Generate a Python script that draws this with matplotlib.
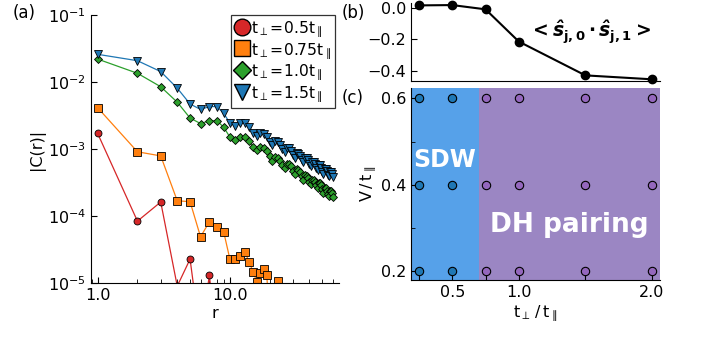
import numpy as np
import matplotlib
matplotlib.use('Agg')
import matplotlib.pyplot as plt
from matplotlib.lines import Line2D
from matplotlib.ticker import NullFormatter

# ---- data ----
r_blue = list(range(1, 61))
c_blue = [2.59e-2, 2.08e-2, 1.43e-2, 8.1e-3, 4.7e-3, 3.9e-3, 4.3e-3, 4.3e-3, 3.4e-3, 2.44e-3,
          2.20e-3, 2.44e-3, 2.44e-3, 2.13e-3, 1.74e-3, 1.57e-3, 1.74e-3, 1.66e-3, 1.49e-3, 1.26e-3,
          1.14e-3, 1.31e-3, 1.27e-3, 1.15e-3, 9.9e-4, 9.0e-4, 1.04e-3, 1.02e-3, 9.4e-4, 8.1e-4,
          7.4e-4, 8.7e-4, 8.5e-4, 7.9e-4, 6.8e-4, 6.3e-4, 7.4e-4, 7.3e-4, 6.8e-4, 5.9e-4,
          5.5e-4, 6.4e-4, 6.4e-4, 5.9e-4, 5.2e-4, 4.8e-4, 5.7e-4, 5.7e-4, 5.3e-4, 4.6e-4,
          4.3e-4, 5.1e-4, 5.1e-4, 4.7e-4, 4.15e-4, 3.9e-4, 4.6e-4, 4.6e-4, 4.3e-4, 3.8e-4]

r_green = list(range(1, 61))
c_green = [2.20e-2, 1.35e-2, 8.5e-3, 5.0e-3, 2.9e-3, 2.4e-3, 2.64e-3, 2.64e-3, 2.1e-3, 1.51e-3,
           1.36e-3, 1.51e-3, 1.51e-3, 1.32e-3, 1.08e-3, 9.7e-4, 1.08e-3, 1.03e-3, 9.2e-4, 7.8e-4,
           6.6e-4, 7.6e-4, 7.4e-4, 6.7e-4, 5.7e-4, 5.2e-4, 6.0e-4, 5.9e-4, 5.5e-4, 4.7e-4,
           4.3e-4, 5.0e-4, 4.9e-4, 4.6e-4, 3.9e-4, 3.5e-4, 4.1e-4, 4.0e-4, 3.7e-4, 3.2e-4,
           3.0e-4, 3.5e-4, 3.5e-4, 3.2e-4, 2.9e-4, 2.6e-4, 3.1e-4, 3.1e-4, 2.9e-4, 2.5e-4,
           2.2e-4, 2.65e-4, 2.65e-4, 2.4e-4, 2.15e-4, 2.0e-4, 2.4e-4, 2.4e-4, 2.2e-4, 1.95e-4]

r_orange = list(range(1, 24))
c_orange = [4.14e-3, 9.1e-4, 7.9e-4, 1.69e-4, 1.64e-4, 4.9e-5, 8.2e-5, 6.9e-5, 5.7e-5, 2.28e-5,
            2.25e-5, 2.55e-5, 2.87e-5, 2.08e-5, 1.45e-5, 1.05e-5, 1.4e-5, 1.6e-5, 1.32e-5, 3e-6,
            2e-6, 4e-6, 1.07e-5]

r_red = list(range(1, 9))
c_red = [1.71e-3, 8.4e-5, 1.62e-4, 9e-6, 2.28e-5, 1.5e-6, 1.32e-5, 1e-6]

labels_a = [r'$\mathregular{t_{\perp}\!=\!0.5t_{\parallel}}$',
            r'$\mathregular{t_{\perp}\!=\!0.75t_{\parallel}}$',
            r'$\mathregular{t_{\perp}\!=\!1.0t_{\parallel}}$',
            r'$\mathregular{t_{\perp}\!=\!1.5t_{\parallel}}$']

t_perp = [0.25, 0.5, 0.75, 1.0, 1.5, 2.0]
s_corr = [0.015, 0.017, -0.01, -0.215, -0.43, -0.455]

V_vals = [0.2, 0.4, 0.6]
t_boundary = 0.7

# ---- figure ----
plt.rcParams['font.size'] = 11.5
plt.rcParams['xtick.direction'] = 'in'
plt.rcParams['ytick.direction'] = 'in'

fig = plt.figure(figsize=(7.05, 3.37), dpi=100)

# (a)
ax1 = fig.add_axes([0.129, 0.160, 0.352, 0.7955])
series = [(r_red, c_red, '#d62728', 'o', 5, 12),
          (r_orange, c_orange, '#ff7f0e', 's', 5.5, 12),
          (r_green, c_green, '#2ca02c', 'D', 4.3, 9.5),
          (r_blue, c_blue, '#1f77b4', 'v', 6, 12)]
handles = []
for (rr, cc, col, mk, ms, lms), lab in zip(series, labels_a):
    ax1.plot(rr, cc, color=col, lw=0.9, marker=mk, ms=ms, mfc=col, mec='black', mew=0.6)
    handles.append(Line2D([], [], ls='none', marker=mk, ms=lms, mfc=col, mec='black', mew=1.0, label=lab))
ax1.set_xscale('log')
ax1.set_yscale('log')
ax1.set_xlim(0.89, 67)
ax1.set_ylim(1e-5, 1e-1)
ax1.set_xticks([1, 10], labels=['1.0', '10.0'])
ax1.xaxis.set_minor_formatter(NullFormatter())
ax1.yaxis.set_minor_locator(matplotlib.ticker.NullLocator())
ax1.tick_params(which='major', length=4)
ax1.tick_params(which='minor', length=3)
for s in ['top', 'right']:
    ax1.spines[s].set_visible(False)
ax1.set_xlabel('r', labelpad=2)
ax1.set_ylabel('|C(r)|', labelpad=2)
leg = ax1.legend(handles=handles, loc='upper right', bbox_to_anchor=(0.985, 1.0),
                 fontsize=11.2, frameon=True, fancybox=False, edgecolor='black',
                 handlelength=0.9, handletextpad=0.15, borderpad=0.25, labelspacing=0.12,
                 borderaxespad=0.0)
leg.get_frame().set_linewidth(0.9)

# (b)
ax2 = fig.add_axes([0.583, 0.760, 0.353, 0.231])
ax2.plot(t_perp, s_corr, color='black', lw=1.5, marker='o', ms=6, clip_on=False)
ax2.set_xlim(0.19, 2.06)
ax2.set_ylim(-0.465, 0.03)
ax2.set_yticks([0.0, -0.2, -0.4], labels=['0.0', '\u22120.2', '\u22120.4'])
ax2.set_xticks([])
for s in ['top', 'right']:
    ax2.spines[s].set_visible(False)
ax2.tick_params(length=4)
ax2.text(0.72, 0.62, r'$\mathbf{<}\mathbfit{\hat{s}}_{\mathbf{j,0}}\,\mathbf{\cdot}\,\mathbfit{\hat{s}}_{\mathbf{j,1}}\mathbf{>}$',
         transform=ax2.transAxes, ha='center', va='center', fontsize=13.5)

# (c)
ax3 = fig.add_axes([0.583, 0.169, 0.353, 0.569])
ax3.axvspan(0.19, t_boundary, color='#56a1e9', lw=0)
ax3.axvspan(t_boundary, 2.06, color='#9b86c3', lw=0)
for t in t_perp:
    col = '#1f77b4' if t < t_boundary else '#9467bd'
    ax3.plot([t] * len(V_vals), V_vals, ls='none', marker='o', ms=6, mfc=col, mec='black', mew=0.8)
ax3.set_xlim(0.19, 2.06)
ax3.set_ylim(0.18, 0.623)
ax3.set_xticks(t_perp, labels=['', '0.5', '', '1.0', '', '2.0'])
ax3.set_yticks([0.2, 0.4, 0.6], labels=['0.2', '0.4', '0.6'])
ax3.set_yticks([0.3, 0.5], minor=True)
ax3.tick_params(which='major', length=4)
ax3.tick_params(which='minor', length=3)
for s in ['top', 'right']:
    ax3.spines[s].set_visible(False)
ax3.text(0.446, 0.458, 'SDW', color='white', fontsize=17, fontweight='bold', ha='center', va='center')
ax3.text(1.38, 0.307, 'DH pairing', color='white', fontsize=19, fontweight='bold', ha='center', va='center')
ax3.set_xlabel(r'$\mathregular{t_{\perp}\,/\,t_{\parallel}}$', labelpad=2)
ax3.set_ylabel(r'$\mathregular{V\,/\,t_{\parallel}}$', labelpad=2)

fig.text(0.018, 0.96, '(a)', va='center', ha='left', fontsize=12)
fig.text(0.484, 0.96, '(b)', va='center', ha='left', fontsize=12)
fig.text(0.484, 0.709, '(c)', va='center', ha='left', fontsize=12)

fig.savefig('out.png', dpi=100)
